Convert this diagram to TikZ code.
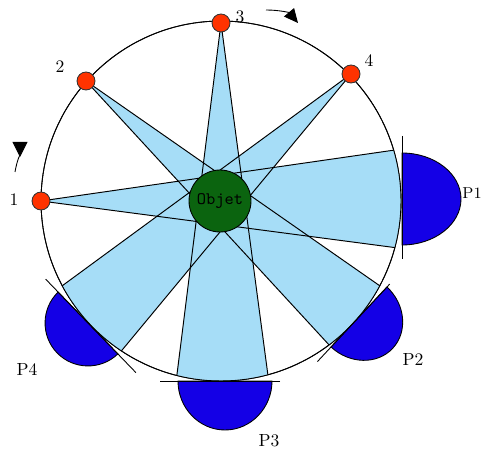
\documentclass[tikz,border=0pt]{standalone}
\usepackage{xcolor}
\usepackage{tikz}
\usetikzlibrary{arrows.meta,positioning,calc}
\definecolor{beamblue}{HTML}{A6DDF7}
\definecolor{detblue}{HTML}{1400E6}
\definecolor{objgreen}{HTML}{0B640F}
\definecolor{srcred}{HTML}{FF3300}

\begin{document}
\begin{tikzpicture}[
  x=0.02cm, y=0.02cm,
  font=\fontsize{10}{12}\selectfont,
  rim/.style={circle, draw=black, line width=0.5pt, minimum size=7.2cm, inner sep=0pt},
  src/.style={circle, draw=black!80, fill=srcred, line width=0.5pt, minimum size=0.36cm, inner sep=0pt},
  obj/.style={circle, draw=black, fill=objgreen, line width=0.5pt, minimum size=1.24cm, inner sep=0pt, font=\fontsize{10}{11}\ttfamily\selectfont},
  beam/.style={fill=beamblue, draw=none},
  edge/.style={draw=black, line width=0.55pt},
  det/.style={fill=detblue, draw=black, line width=0.5pt},
  flat/.style={draw=black, line width=0.5pt},
  turn/.style={draw=black, line width=0.5pt},
]
\useasboundingbox (0,0) rectangle (483,450);
% rim and object centre
\node[rim] (rim) at (221,249) {};
% sources
\coordinate (s1) at (41,249);
\coordinate (s2) at (86,369);
\coordinate (s3) at (221,427);
\coordinate (s4) at (351,376);

% beams: source / start and end angle on the rim
\foreach \n/\a/\b in {1/16.4/-15, 2/-28.1/-53.1, 3/-74.9/-104.2, 4/-123.6/-151.9}{
  \coordinate (e\n a) at ([shift={(\a:3.6cm)}]rim.center);
  \coordinate (e\n b) at ([shift={(\b:3.6cm)}]rim.center);
  \fill[beam] (s\n) -- (e\n a) arc[start angle=\a, end angle=\b, radius=3.6cm] -- cycle;
}
\node[rim] at (rim.center) {};
\foreach \n in {1,2,3,4}{
  \draw[edge] (s\n) -- (e\n a);
  \draw[edge] (s\n) -- (e\n b);
}

% detectors: centre / rotation / half width / depth / flat ends
\foreach \x/\y/\r/\h/\d/\u/\v in {402/251/0/46/59/63/60, 359/133/-43/41/46/45/61, 225/69/-90/47/49/55/65, 88/127/-136/43/43/69/61}{
  \begin{scope}[shift={(\x,\y)}, rotate=\r]
    \path[det] (0,\h) .. controls ({0.55*\d},\h) and (\d,{0.55*\h}) .. (\d,0)
      .. controls (\d,{-0.55*\h}) and ({0.55*\d},-\h) .. (0,-\h) -- cycle;
    \draw[flat] (0,\u) -- (0,-\v);
  \end{scope}
}

% object
\node[obj] (objet) at (220,249) {Objet};

% source dots
\node[src] (n1) at (s1) {};
\node[src] (n2) at (s2) {};
\node[src] (n3) at (s3) {};
\node[src] (n4) at (s4) {};

% labels
\node (l1) at (14,250) {1};
\node (l2) at (60,383) {2};
\node (l3) at (240,433) {3};
\node (l4) at (369,389) {4};
\node[anchor=east, inner sep=0pt, font=\fontsize{9}{10}\selectfont] (p1) at (482,257) {P1};
\node (p2) at (413,91) {P2};
\node (p3) at (269,9) {P3};
\node (p4) at (27,81) {P4};

% rotation arrows
\coordinate (t1) at (15,278);
\coordinate (t2) at (20,308);
\coordinate (t3) at (266,440);
\coordinate (t4) at (298,427);
\draw[turn, -{Triangle[reversed, length=0.3cm, width=0.3cm]}] (t1) to[out=80,in=-90] (t2);
\draw[turn, -{Triangle[length=0.28cm, width=0.26cm]}] (t3) to[out=0,in=130] (t4);
\end{tikzpicture}
\end{document}
